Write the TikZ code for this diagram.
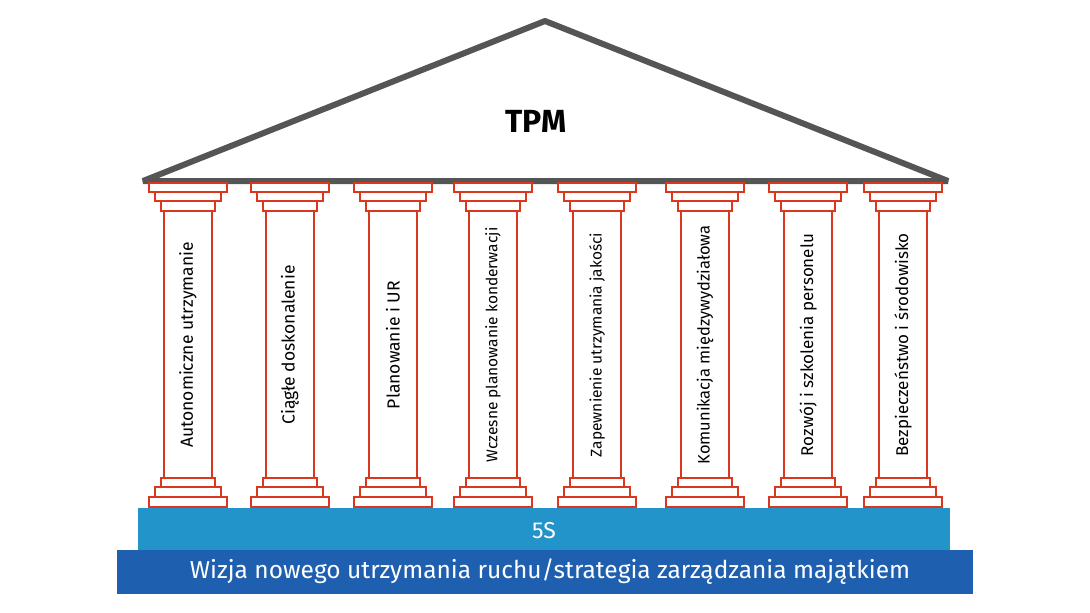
\documentclass[tikz,border=0pt]{standalone}
\usepackage{fontspec}
\setmainfont{Fira Sans}
\definecolor{pil}{HTML}{D9381E}
\definecolor{roof}{HTML}{555555}
\definecolor{lblue}{HTML}{2394C9}
\definecolor{dblue}{HTML}{1F5FAF}
\begin{document}
\begin{tikzpicture}[x=1pt,y=-1pt,
  slab/.style={draw=pil,line width=2.8pt,fill=white},
  ptext/.style={rotate=90,text=black}]
\useasboundingbox (0,0) rectangle (1090,613);
\fill[dblue] (117,550) rectangle (973,594);
\fill[lblue] (138,508) rectangle (950,550);
\node (base) at (544,531) {\color{white}\fontsize{23}{26}\selectfont 5S};
\node (vision) at (550,572) {\color{white}\fontsize{24.5}{28}\selectfont Wizja nowego utrzymania ruchu/strategia zarządzania majątkiem};
\draw[roof,line width=6pt,line join=bevel,fill=white] (143,181) -- (545,21) -- (948,181) -- cycle;
\node[font=\bfseries\fontsize{32}{36}\selectfont] (tpm) at (536,121) {TPM};
\foreach \cx/\fs/\t [count=\i] in {188/17.5/Autonomiczne utrzymanie,290/17.5/Ciągłe doskonalenie,393/17.5/Planowanie i UR,493/15.5/Wczesne planowanie konderwacji,597/15.5/Zapewnienie utrzymania jakości,705/16.5/Komunikacja międzywydziałowa,808/17/Rozwój i szkolenia personelu,903/17/Bezpieczeństwo i środowisko}{
  \draw[slab] (\cx-24,211) rectangle (\cx+24,478);
  \draw[slab] (\cx-39,183) rectangle (\cx+39,192);
  \draw[slab] (\cx-33,192) rectangle (\cx+33,201);
  \draw[slab] (\cx-27,201) rectangle (\cx+27,211);
  \draw[slab] (\cx-27,478) rectangle (\cx+27,487);
  \draw[slab] (\cx-33,487) rectangle (\cx+33,497);
  \draw[slab] (\cx-39,497) rectangle (\cx+39,507);
  \node[ptext,font=\fontsize{\fs}{20}\selectfont] (p\i) at (\cx,345) {\t};
}
\end{tikzpicture}
\end{document}
